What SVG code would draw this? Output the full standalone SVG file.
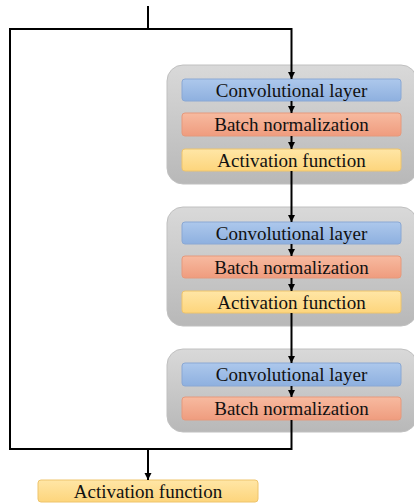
<svg xmlns="http://www.w3.org/2000/svg" width="414" height="503" viewBox="0 0 414 503">
<defs>
<linearGradient id="gGrey" x1="0" y1="0" x2="0" y2="1"><stop offset="0" stop-color="#d9d9d9"/><stop offset="1" stop-color="#b8b8b8"/></linearGradient>
<linearGradient id="gBlue" x1="0" y1="0" x2="0" y2="1"><stop offset="0" stop-color="#adc8ec"/><stop offset="1" stop-color="#8eb0df"/></linearGradient>
<linearGradient id="gRed" x1="0" y1="0" x2="0" y2="1"><stop offset="0" stop-color="#f7baa0"/><stop offset="1" stop-color="#ef9c7e"/></linearGradient>
<linearGradient id="gYel" x1="0" y1="0" x2="0" y2="1"><stop offset="0" stop-color="#ffe6a6"/><stop offset="1" stop-color="#fdd57c"/></linearGradient>
<marker id="arr" viewBox="0 0 10 10" refX="10" refY="5" markerWidth="3.6" markerHeight="3.6" orient="auto" markerUnits="strokeWidth"><path d="M0,0 L10,5 L0,10 z" fill="#000"/></marker>
</defs>
<style>
.grp{fill:url(#gGrey);stroke:#c0c0c0;stroke-width:1}
.conv{fill:url(#gBlue);stroke:#8aa8d4;stroke-width:1}
.bn{fill:url(#gRed);stroke:#e6997c;stroke-width:1}
.act{fill:url(#gYel);stroke:#eec46c;stroke-width:1}
.lbl{font-family:"Liberation Serif","DejaVu Serif",serif;font-size:19px;fill:#111;text-anchor:middle;dominant-baseline:central}
.ln{fill:none;stroke:#000;stroke-width:2}
</style>
<g id="block1">
<rect class="grp" x="167" y="65" width="250" height="119" rx="16"/>
</g>
<g id="block2">
<rect class="grp" x="167" y="207" width="250" height="119" rx="16"/>
</g>
<g id="block3">
<rect class="grp" x="167" y="349" width="250" height="83" rx="16"/>
</g>
<g id="conv1"><rect class="conv" x="182" y="79" width="219" height="22" rx="3"/><text class="lbl" x="291.5" y="90">Convolutional layer</text></g>
<g id="bn1"><rect class="bn" x="182" y="113" width="219" height="23" rx="3"/><text class="lbl" x="291.5" y="124.5">Batch normalization</text></g>
<g id="act1"><rect class="act" x="182" y="149" width="219" height="22" rx="3"/><text class="lbl" x="291.5" y="160">Activation function</text></g>
<g id="conv2"><rect class="conv" x="182" y="222" width="219" height="22" rx="3"/><text class="lbl" x="291.5" y="233">Convolutional layer</text></g>
<g id="bn2"><rect class="bn" x="182" y="256" width="219" height="22" rx="3"/><text class="lbl" x="291.5" y="267">Batch normalization</text></g>
<g id="act2"><rect class="act" x="182" y="291" width="219" height="22" rx="3"/><text class="lbl" x="291.5" y="302">Activation function</text></g>
<g id="conv3"><rect class="conv" x="182" y="363" width="219" height="23" rx="3"/><text class="lbl" x="291.5" y="374.5">Convolutional layer</text></g>
<g id="bn3"><rect class="bn" x="182" y="397" width="219" height="23" rx="3"/><text class="lbl" x="291.5" y="408.5">Batch normalization</text></g>
<g id="actOut"><rect class="act" x="38" y="480" width="220" height="22" rx="3"/><text class="lbl" x="148" y="491">Activation function</text></g>
<g id="connectors">
<path class="ln" d="M148,6 V29"/>
<path class="ln" d="M10,29 H291.5 V79" marker-end="url(#arr)"/>
<path class="ln" d="M10,28 V449"/>
<path class="ln" d="M291.5,101 V113" marker-end="url(#arr)"/>
<path class="ln" d="M291.5,136 V149" marker-end="url(#arr)"/>
<path class="ln" d="M291.5,171 V222" marker-end="url(#arr)"/>
<path class="ln" d="M291.5,244 V256" marker-end="url(#arr)"/>
<path class="ln" d="M291.5,278 V291" marker-end="url(#arr)"/>
<path class="ln" d="M291.5,313 V363" marker-end="url(#arr)"/>
<path class="ln" d="M291.5,386 V397" marker-end="url(#arr)"/>
<path class="ln" d="M291.5,420 V449 H9"/>
<path class="ln" d="M148,449 V480" marker-end="url(#arr)"/>
</g>
</svg>
